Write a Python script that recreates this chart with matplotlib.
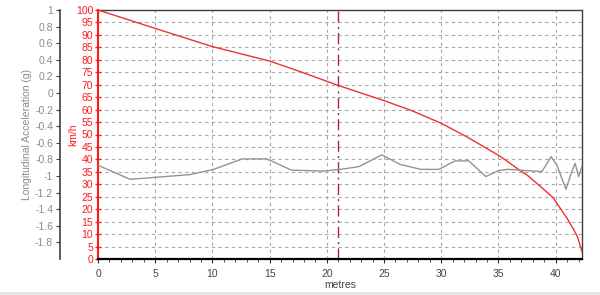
import matplotlib
matplotlib.use("Agg")
import matplotlib.pyplot as plt
from matplotlib.ticker import MultipleLocator, FixedLocator
from matplotlib.patches import Rectangle

plt.rcParams['font.family'] = ['Liberation Sans', 'DejaVu Sans']

# Speed trace (km/h) vs distance (metres)
speed_x = [0, 5, 10, 15, 17.7, 21, 25, 27.3, 30, 32.3, 35.2, 36.9, 37.5, 38.7, 39.8, 41.0, 41.6, 41.9, 42.3]
speed_kmh = [100, 92.6, 85.3, 79.5, 75.2, 69.7, 63.6, 59.8, 54.5, 48.9, 41.1, 35.5, 33.7, 29.0, 24.5, 16.3, 11.6, 9.0, 3.0]

# Longitudinal acceleration (g) vs distance
acc_x = [0, 2.8, 8.05, 10.1, 12.6, 14.75, 16.9, 19.7, 21.2, 22.8, 24.8, 26.4, 28.2, 29.8, 31.2,
         32.4, 33.9, 35.0, 35.8, 38.8, 39.6, 40.1, 40.9, 41.4, 41.7, 42.0, 42.3]
acc_g = [-0.87, -1.04, -0.983, -0.92, -0.794, -0.794, -0.929, -0.941, -0.92, -0.887, -0.746, -0.86,
         -0.92, -0.92, -0.818, -0.818, -1.007, -0.935, -0.92, -0.947, -0.767, -0.869, -1.16, -0.947,
         -0.848, -1.007, -0.887]

marker_x = 21.0

x_ticks = [0, 5, 10, 15, 20, 25, 30, 35, 40]
kmh_ticks = list(range(0, 101, 5))
acc_ticks = [1, 0.8, 0.6, 0.4, 0.2, 0, -0.2, -0.4, -0.6, -0.8, -1, -1.2, -1.4, -1.6, -1.8]
acc_labels = ['1', '0.8', '0.6', '0.4', '0.2', '0', '-0.2', '-0.4', '-0.6', '-0.8', '-1', '-1.2', '-1.4', '-1.6', '-1.8']

fs = 7.5
red = '#ff1a1a'
grey_txt = '#8a8a8a'

fig = plt.figure(figsize=(6.0, 2.95), dpi=100)
ax = fig.add_axes([98/600, 1-259/295, (582-98)/600, (259-10)/295])

ax.set_xlim(0, 42.3)
ax.set_ylim(0, 100)

# grid
ax.set_xticks(x_ticks)
ax.set_yticks(kmh_ticks)
ax.grid(True, color='#a8a8a8', linestyle=(0, (3, 3)), linewidth=0.8)
ax.set_axisbelow(True)

ax.plot(speed_x, speed_kmh, color='#f03030', linewidth=1.0, zorder=3)

ax.axvline(marker_x, color='#a8283c', linestyle=(0, (8, 3, 1.5, 3)), linewidth=1.0, zorder=2)

# acceleration axis
ax2 = ax.twinx()
ax2.set_ylim(-2, 1)
ax2.plot(acc_x, acc_g, color='#949494', linewidth=1.0, zorder=3)
ax2.yaxis.set_ticks_position('left')
ax2.yaxis.set_label_position('left')
ax2.spines['left'].set_position(('outward', 38 * 72 / 100))
ax2.spines['left'].set_color('#404040')
ax2.spines['left'].set_linewidth(1.2)
for s in ['right', 'top', 'bottom']:
    ax2.spines[s].set_visible(False)
ax2.yaxis.set_major_locator(FixedLocator(acc_ticks))
ax2.set_yticklabels(acc_labels)
ax2.tick_params(axis='y', which='major', direction='out', length=3, width=0.8, color='#404040',
                labelsize=fs, labelcolor=grey_txt, pad=2)
ax2.set_ylabel('Longitudinal Acceleration (g)', fontsize=fs, color=grey_txt, labelpad=2)

# km/h axis styling
ax.spines['left'].set_color(red)
ax.spines['left'].set_linewidth(1.5)
ax.spines['bottom'].set_color('black')
ax.spines['bottom'].set_linewidth(1.6)
ax.spines['top'].set_color('#404040')
ax.spines['right'].set_color('#404040')
ax.spines['top'].set_linewidth(1.0)
ax.spines['right'].set_linewidth(1.0)
ax.tick_params(axis='y', which='major', direction='inout', length=5, width=0.9, color=red,
               labelsize=fs, labelcolor=red, pad=1)
ax.tick_params(axis='x', which='major', direction='out', length=3, width=0.8, color='#333333',
               labelsize=fs, labelcolor='#444444', pad=4)
ax.xaxis.set_minor_locator(MultipleLocator(1))
ax.tick_params(axis='x', which='minor', direction='out', length=2, width=0.6, color='#333333')
ax.set_ylabel('km/h', fontsize=fs, color=red, labelpad=-1.5)
ax.set_xlabel('metres', fontsize=fs, color='#444444', labelpad=1)

# light grey border strip at bottom of screenshot
fig.patches.append(Rectangle((0, 0), 1, 3/295, transform=fig.transFigure, color='#e6e6e6', zorder=0))

fig.savefig('out.png', dpi=100)
